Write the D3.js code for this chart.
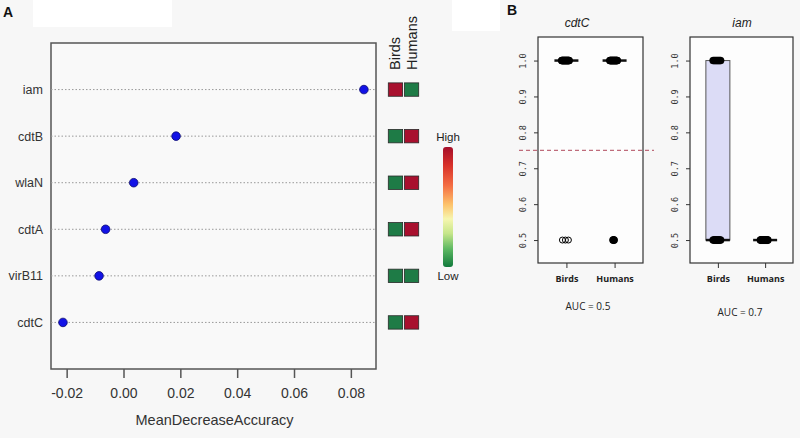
<!DOCTYPE html>
<html><head><meta charset="utf-8">
<script src="https://cdn.jsdelivr.net/npm/d3@7"></script>
<style>
html,body{margin:0;padding:0;background:#f7f7f7;}
svg{display:block;font-family:"Liberation Sans",Arial,sans-serif;}
</style></head>
<body>
<svg id="c" width="800" height="438"></svg>
<script>
// ---------- Panel A data ----------
const features = ["iam","cdtB","wlaN","cdtA","virB11","cdtC"];
const importance = [0.0846, 0.0185, 0.0036, -0.0063, -0.0086, -0.0213];
const xTicks = [-0.02, 0.00, 0.02, 0.04, 0.06, 0.08];
const hostGroups = ["Birds","Humans"];
const birdsLevel  = [1,0,0,0,0,0];   // 1 = High, 0 = Low
const humansLevel = [0,1,1,1,0,1];
const legendLabels = ["High","Low"];

// ---------- Panel B data ----------
const boxGenes = ["cdtC","iam"];
const aucValues = [0.5, 0.7];
const yTicksB = [0.5, 0.6, 0.7, 0.8, 0.9, 1.0];
const cdtC_Birds  = [1,1,1,1,1,1,1,1,1,1,1,1,1,1,1,1,1,1,1,1,0.5,0.5,0.5];
const cdtC_Humans = [1,1,1,1,1,1,1,1,1,1,1,1,1,1,1,1,1,1,1,1,0.5,0.5,0.5,0.5];
const iam_Birds   = [1,1,1,1,1,1,1,1,0.5,0.5,0.5,0.5,0.5,0.5,0.5,0.5,0.5,0.5];
const iam_Humans  = [0.5,0.5,0.5,0.5,0.5,0.5,0.5,0.5,0.5,0.5,0.5,0.5,0.5,0.5,0.5,0.5,0.5,0.5,0.5,0.5];
const threshold = 0.75;

const svg = d3.select("#c");
// background patches
svg.append("rect").attr("x",0).attr("y",0).attr("width",800).attr("height",438).attr("fill","#f7f7f7");
svg.append("rect").attr("x",33).attr("y",0).attr("width",139).attr("height",27).attr("fill","#ffffff");
svg.append("rect").attr("x",452).attr("y",0).attr("width",48).attr("height",31).attr("fill","#ffffff");

// panel letters
svg.append("text").attr("x",3).attr("y",17).text("A").attr("font-weight","bold").attr("font-size",14).attr("fill","#111");
svg.append("text").attr("x",507).attr("y",15).text("B").attr("font-weight","bold").attr("font-size",14).attr("fill","#111");

// ================= Panel A =================
const A = {l:51, t:43, r:376, b:369};
const x = d3.scaleLinear().domain([-0.02551, 0.08885]).range([A.l, A.r]);
const y = d3.scalePoint().domain(features).range([A.t, A.b]).padding(1);

const gA = svg.append("g");
gA.append("rect").attr("x",A.l).attr("y",A.t).attr("width",A.r-A.l).attr("height",A.b-A.t)
  .attr("fill","#f9f9f9").attr("stroke","#555").attr("stroke-width",1.5);

// dotted guide lines
gA.selectAll(".guide").data(features).enter().append("line")
  .attr("x1",A.l).attr("x2",A.r).attr("y1",d=>y(d)).attr("y2",d=>y(d))
  .attr("stroke","#999").attr("stroke-width",1).attr("stroke-dasharray","1.5,2");

// category labels
gA.selectAll(".lab").data(features).enter().append("text")
  .attr("x",43).attr("y",d=>y(d)).attr("dy","0.35em").attr("text-anchor","end")
  .attr("font-size",12.5).attr("fill","#333").text(d=>d);

// x axis
const xAxis = d3.axisBottom(x).tickValues(xTicks).tickSize(9).tickPadding(10).tickFormat(d=>d.toFixed(2));
const gx = gA.append("g").attr("transform",`translate(0,${A.b})`).call(xAxis);
gx.select(".domain").remove();
gx.selectAll(".tick line").attr("stroke","#555").attr("stroke-width",1.5);
gx.selectAll(".tick text").attr("font-size",14).attr("fill","#333").attr("font-family","Liberation Sans, Arial, sans-serif");
gA.append("text").attr("x",(A.l+A.r)/2+1).attr("y",425).attr("text-anchor","middle")
  .attr("font-size",14.5).attr("fill","#333").text("MeanDecreaseAccuracy");

// points
gA.selectAll(".pt").data(features).enter().append("circle")
  .attr("cx",(d,i)=>x(importance[i])).attr("cy",d=>y(d)).attr("r",4.3)
  .attr("fill","#1212e6").attr("stroke","#0a0a70").attr("stroke-width",0.8);

// heat squares
const heatColor = d3.scaleOrdinal().domain([0,1]).range(["#1e7b46","#a8102e"]);
const colX = d3.scaleBand().domain(hostGroups).range([388.3,418.7]).paddingInner(0.11);
const levels = {Birds: birdsLevel, Humans: humansLevel};
hostGroups.forEach(g=>{
  gA.selectAll(".sq"+g).data(features).enter().append("rect")
    .attr("x",colX(g)).attr("y",d=>y(d)-6.7).attr("width",colX.bandwidth()).attr("height",13.4)
    .attr("fill",(d,i)=>heatColor(levels[g][i])).attr("stroke","#2a2a2a").attr("stroke-width",0.8);
  gA.append("text").attr("transform",`translate(${colX(g)+colX.bandwidth()/2+5},70) rotate(-90)`)
    .attr("font-size",14.5).attr("fill","#222").text(g);
});

// legend gradient
const defs = svg.append("defs");
const grad = defs.append("linearGradient").attr("id","hl").attr("x1",0).attr("x2",0).attr("y1",0).attr("y2",1);
[["0%","#a50f2a"],["15%","#d7302a"],["32%","#f46d43"],["48%","#fdc36b"],["60%","#f6f6b0"],["72%","#c6e68a"],["85%","#5db862"],["100%","#117a3c"]]
  .forEach(s=>grad.append("stop").attr("offset",s[0]).attr("stop-color",s[1]));
gA.append("rect").attr("x",443).attr("y",147).attr("width",10).attr("height",120).attr("rx",3)
  .attr("fill","url(#hl)");
gA.append("text").attr("x",448).attr("y",141).attr("text-anchor","middle").attr("font-size",11.5).attr("fill","#222").text(legendLabels[0]);
gA.append("text").attr("x",448).attr("y",280).attr("text-anchor","middle").attr("font-size",11.5).attr("fill","#222").text(legendLabels[1]);

// ================= Panel B =================
const panelsB = [
  {gene: boxGenes[0], auc: aucValues[0], l:538, r:643, t:37, b:263, titleX:577, aucX:588, aucY:310,
   data: {Birds: cdtC_Birds, Humans: cdtC_Humans}, openAt: {Birds: 0.5}, thresh: true},
  {gene: boxGenes[1], auc: aucValues[1], l:690, r:793, t:37, b:263, titleX:742, aucX:740, aucY:316,
   data: {Birds: iam_Birds, Humans: iam_Humans}, openAt: {}, thresh: false}
];
const yB = d3.scaleLinear().domain([0.4361, 1.0656]).range([263, 37]);

function quant(arr, p){ return d3.quantile(arr.slice().sort(d3.ascending), p); }

panelsB.forEach(P=>{
  const g = svg.append("g");
  const xb = d3.scalePoint().domain(hostGroups).range([P.l, P.r]).padding(0.59);
  g.append("rect").attr("x",P.l).attr("y",P.t).attr("width",P.r-P.l).attr("height",P.b-P.t)
    .attr("fill","#fdfdfd").attr("stroke","#333").attr("stroke-width",1.2);
  g.append("text").attr("x",P.titleX).attr("y",27).attr("text-anchor","middle")
    .attr("font-style","italic").attr("font-size",12).attr("fill","#222").text(P.gene);

  // y axis
  const ya = d3.axisLeft(yB).tickValues(yTicksB).tickSize(4).tickFormat(d3.format(".1f"));
  const gy = g.append("g").attr("transform",`translate(${P.l},0)`).call(ya);
  gy.select(".domain").remove();
  gy.selectAll(".tick line").attr("stroke","#333");
  gy.selectAll(".tick text").attr("x",0).attr("dy",0)
    .attr("transform","translate(-12,0) rotate(-90)").attr("text-anchor","middle")
    .attr("font-size",8.5).attr("font-family","DejaVu Sans Mono, monospace").attr("fill","#333");

  // x axis
  const xa = d3.axisBottom(xb).tickSize(5).tickPadding(8);
  const gxb = g.append("g").attr("transform",`translate(0,${P.b})`).call(xa);
  gxb.select(".domain").remove();
  gxb.selectAll(".tick line").attr("stroke","#333");
  gxb.selectAll(".tick text").attr("font-size",9).attr("font-weight","bold").attr("fill","#222")
    .attr("font-family","Open Sans, Liberation Sans, sans-serif");

  if (P.thresh){
    g.append("line").attr("x1",519).attr("x2",654).attr("y1",yB(threshold)).attr("y2",yB(threshold))
      .attr("stroke","#b0485a").attr("stroke-width",1).attr("stroke-dasharray","4,3");
  }

  const bw = 24;
  hostGroups.forEach(grp=>{
    const vals = P.data[grp];
    const cx = xb(grp);
    const q1 = quant(vals,0.25), med = quant(vals,0.5), q3 = quant(vals,0.75);
    if (q3 > q1){
      g.append("rect").attr("x",cx-bw/2).attr("y",yB(q3)).attr("width",bw).attr("height",yB(q1)-yB(q3))
        .attr("fill","#dcdcf6").attr("stroke","#555").attr("stroke-width",1);
    }
    g.append("line").attr("x1",cx-bw/2).attr("x2",cx+bw/2).attr("y1",yB(med)).attr("y2",yB(med))
      .attr("stroke","#111").attr("stroke-width",2.5);
    // strip points grouped by value
    const byVal = d3.group(vals, v=>v);
    byVal.forEach((arr, v)=>{
      const n = arr.length;
      const open = P.openAt[grp] === v;
      const half = open ? 3 : (n >= 8 ? 3.8 : 0.6);
      arr.forEach((_,i)=>{
        const off = n>1 ? -half + 2*half*i/(n-1) : 0;
        g.append("circle").attr("cx",cx-1+off).attr("cy",yB(v)).attr("r",open?3:3.5)
          .attr("fill",open?"none":"#000").attr("stroke","#000").attr("stroke-width",open?1:0.5);
      });
    });
  });

  g.append("text").attr("x",P.aucX).attr("y",P.aucY).attr("text-anchor","middle")
    .attr("font-size",10).attr("fill","#222").attr("font-family","Open Sans, Liberation Sans, sans-serif")
    .text("AUC = " + P.auc);
});
</script>
</body></html>
